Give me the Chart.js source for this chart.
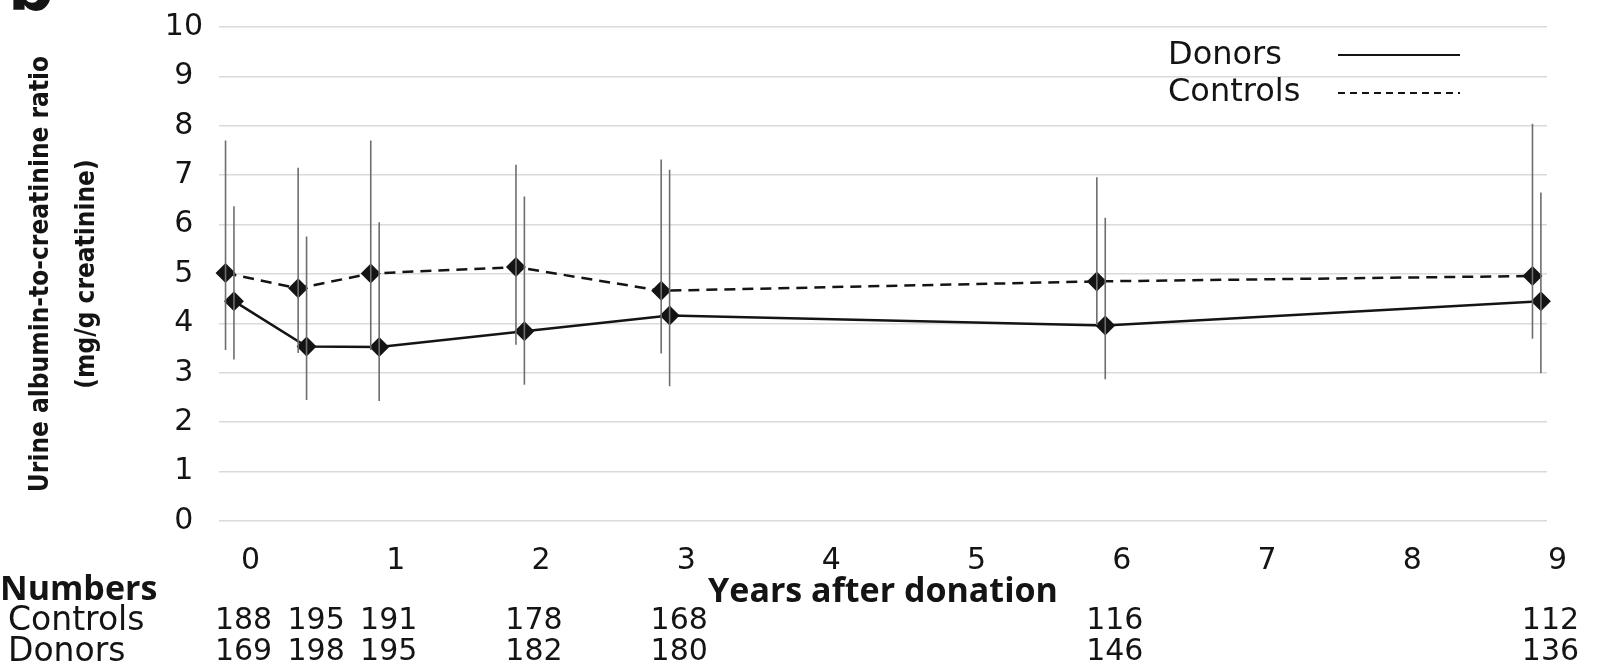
<!DOCTYPE html>
<html>
<head>
<meta charset="utf-8">
<title>Urine albumin-to-creatinine ratio</title>
<script src="https://cdn.jsdelivr.net/npm/chart.js@4.4.0/dist/chart.umd.min.js"></script>
<style>
    html, body { margin: 0; padding: 0; background: #fff; }
    #contenedor { width: 1614px; height: 671px; position: relative; }
</style>
</head>
<body>
<div id="contenedor"><canvas id="graficoUacr"></canvas></div>
<script>
// years after donation where both groups were measured
const years = [0, 0.5, 1, 2, 3, 6, 9];
const xTicks = [0, 1, 2, 3, 4, 5, 6, 7, 8, 9];

// controls (dashed line)
const controlsMean = [5.02, 4.71, 5.01, 5.14, 4.66, 4.85, 4.96];
const controlsLow = [3.46, 3.40, 3.46, 3.57, 3.39, 3.97, 3.69];
const controlsHigh = [7.70, 7.15, 7.70, 7.21, 7.32, 6.96, 8.04];

// donors (solid line)
const donorsMean = [4.45, 3.53, 3.52, 3.84, 4.16, 3.96, 4.45];
const donorsLow = [3.27, 2.45, 2.43, 2.76, 2.73, 2.87, 2.99];
const donorsHigh = [6.37, 5.76, 6.05, 6.57, 7.11, 6.14, 6.65];

// numbers at each visit
const controlsN = [188, 195, 191, 178, 168, 116, 112];
const donorsN = [169, 198, 195, 182, 180, 146, 136];

window.onload = function() {
    // donors are nudged a bit to the right so the bars don't overlap
    const desplazamiento = 0.058;
    const xControls = years;
    const xDonors = years.map(t => t + desplazamiento);

    function puntos(xs, ys) {
        return xs.map((x, i) => ({ x: x, y: ys[i] }));
    }

    // one vertical segment per visit, null breaks the line between them
    function barras(xs, bajo, alto) {
        const pts = [];
        xs.forEach((x, i) => {
            pts.push({ x: x, y: bajo[i] }, { x: x, y: alto[i] }, { x: x, y: null });
        });
        return pts;
    }

    const negro = '#141414';
    const gris = '#6e6e6e';

    const extras = {
        id: 'extras',
        afterDraw(chart) {
            const ctx = chart.ctx;
            const escalaX = chart.scales.x;
            ctx.save();
            ctx.fillStyle = negro;

            // panel letter, cut at the top edge
            ctx.font = 'bold 64px "DejaVu Sans"';
            ctx.textAlign = 'left';
            ctx.textBaseline = 'alphabetic';
            ctx.fillText('b', 8, 10);

            // legend
            ctx.font = '32px "DejaVu Sans"';
            ctx.textBaseline = 'middle';
            ctx.fillText('Donors', 1168, 56);
            ctx.fillText('Controls', 1168, 93);
            ctx.strokeStyle = negro;
            ctx.lineWidth = 2;
            ctx.beginPath();
            ctx.moveTo(1338, 55);
            ctx.lineTo(1460, 55);
            ctx.stroke();
            ctx.setLineDash([7, 5]);
            ctx.beginPath();
            ctx.moveTo(1338, 93);
            ctx.lineTo(1460, 93);
            ctx.stroke();
            ctx.setLineDash([]);

            // table of numbers under the axis
            ctx.font = 'bold 34px "Open Sans"';
            ctx.fillText('Numbers', 0, 590);
            ctx.font = '33px "DejaVu Sans"';
            ctx.fillText('Controls', 8, 621);
            ctx.fillText('Donors', 8, 652);
            ctx.font = '30px "DejaVu Sans"';
            ctx.textAlign = 'center';
            years.forEach((t, i) => {
                const px = escalaX.getPixelForValue(t) + 18;
                ctx.fillText(String(controlsN[i]), px, 621);
                ctx.fillText(String(donorsN[i]), px, 652);
            });
            ctx.restore();
        }
    };

    const ctx = document.getElementById('graficoUacr').getContext('2d');
    const grafico = new Chart(ctx, {
        type: 'line',
        data: {
            datasets: [
                {
                    label: 'Controls range',
                    data: barras(xControls, controlsLow, controlsHigh),
                    borderColor: gris,
                    borderWidth: 1.6,
                    pointRadius: 0,
                    spanGaps: false,
                    clip: false
                },
                {
                    label: 'Donors range',
                    data: barras(xDonors, donorsLow, donorsHigh),
                    borderColor: gris,
                    borderWidth: 1.6,
                    pointRadius: 0,
                    spanGaps: false,
                    clip: false
                },
                {
                    label: 'Donors',
                    data: puntos(xDonors, donorsMean),
                    borderColor: negro,
                    backgroundColor: negro,
                    borderWidth: 2.5,
                    pointStyle: 'rectRot',
                    pointRadius: 10,
                    pointBorderWidth: 0,
                    tension: 0,
                    clip: false
                },
                {
                    label: 'Controls',
                    data: puntos(xControls, controlsMean),
                    borderColor: negro,
                    backgroundColor: negro,
                    borderWidth: 2.5,
                    borderDash: [11, 7],
                    pointStyle: 'rectRot',
                    pointRadius: 10,
                    pointBorderWidth: 0,
                    tension: 0,
                    clip: false
                }
            ]
        },
        options: {
            responsive: true,
            maintainAspectRatio: false,
            animation: false,
            layout: {
                padding: { top: 27, right: 67, bottom: 58, left: 0 }
            },
            plugins: {
                legend: { display: false },
                tooltip: { enabled: false }
            },
            scales: {
                x: {
                    type: 'linear',
                    min: -0.045,
                    max: 9.1,
                    afterBuildTicks: scale => {
                        scale.ticks = xTicks.map(v => ({ value: v }));
                    },
                    afterFit: scale => {
                        scale.height = 92;
                    },
                    grid: { display: false, drawTicks: false },
                    border: { display: false },
                    ticks: {
                        labelOffset: 25,
                        padding: 22,
                        maxRotation: 0,
                        color: negro,
                        font: { family: 'DejaVu Sans', size: 30 }
                    },
                    title: {
                        display: true,
                        text: 'Years after donation',
                        color: negro,
                        padding: { top: 0, bottom: 0 },
                        font: { family: 'Open Sans', size: 34, weight: 'bold' }
                    }
                },
                y: {
                    min: 0,
                    max: 10,
                    afterFit: scale => {
                        scale.width = 219;
                        // labels may overflow the area, the layout padding already covers it
                        scale.paddingTop = 0;
                        scale.paddingBottom = 0;
                    },
                    grid: { color: '#dadada', lineWidth: 1.5, drawTicks: false },
                    border: { display: false },
                    ticks: {
                        stepSize: 1,
                        crossAlign: 'center',
                        padding: 16,
                        color: negro,
                        font: { family: 'DejaVu Sans', size: 30 }
                    },
                    title: {
                        display: true,
                        text: ['Urine albumin-to-creatinine ratio', '(mg/g creatinine)'],
                        color: negro,
                        padding: { top: 18, bottom: 0 },
                        font: { family: '"Liberation Sans Narrow", "DejaVu Sans Condensed", "Liberation Sans"', size: 26, weight: 'bold', lineHeight: 1.77 }
                    }
                }
            }
        },
        plugins: [extras]
    });
};
</script>
</body>
</html>
